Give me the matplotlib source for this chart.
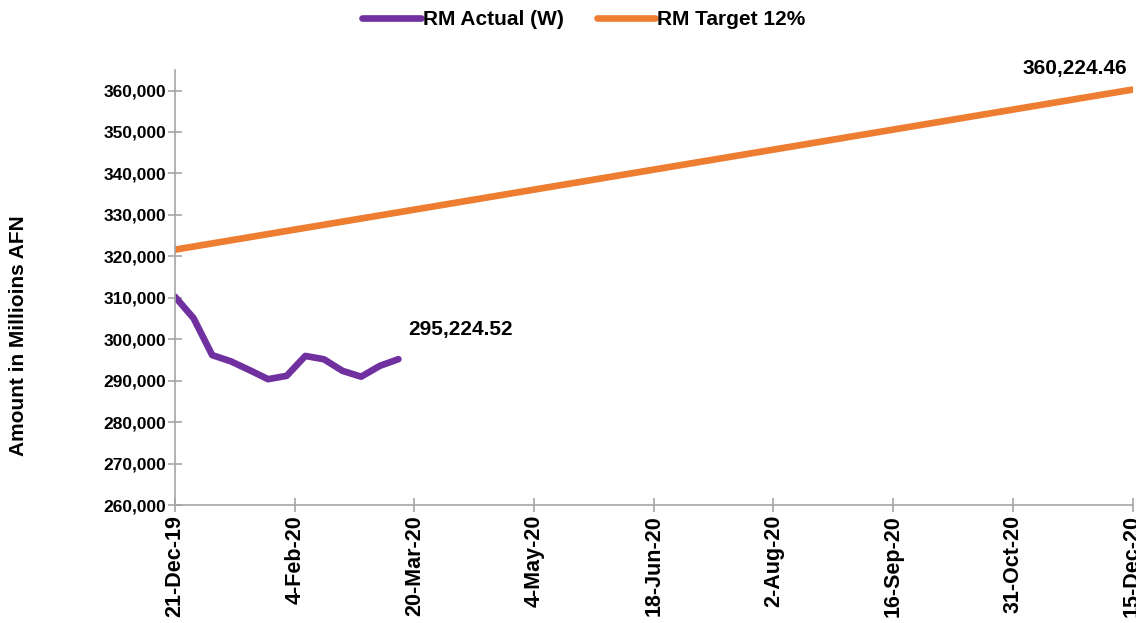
import datetime as dt
import matplotlib
matplotlib.use("Agg")
import matplotlib.pyplot as plt
from matplotlib.ticker import FuncFormatter

plt.rcParams['font.family'] = ['Liberation Sans', 'DejaVu Sans']
plt.rcParams['font.weight'] = 'bold'

# weekly actual RM (W)
actual_dates = [dt.date(2019, 12, 21) + dt.timedelta(days=7 * i) for i in range(13)]
actual_vals = [310300, 305100, 296200, 294700, 292600, 290400, 291200,
               296000, 295200, 292400, 291000, 293600, 295224.52]

# 12% target line
target_dates = [dt.date(2019, 12, 21), dt.date(2020, 12, 15)]
target_vals = [321628.98, 360224.46]

tick_dates = [dt.date(2019, 12, 21) + dt.timedelta(days=45 * i) for i in range(9)]
tick_labels = [f"{d.day}-{d.strftime('%b-%y')}" for d in tick_dates]

purple = '#7030A0'
orange = '#ED7D31'
grey = '#A6A6A6'

fig = plt.figure(figsize=(11.36, 6.23), dpi=100)
ax = fig.add_axes([0.154, 0.189, 0.843, 0.699])

ax.plot(actual_dates, actual_vals, color=purple, lw=4.8, label='RM Actual (W)',
        solid_capstyle='round', solid_joinstyle='round')
ax.plot(target_dates, target_vals, color=orange, lw=4.8, label='RM Target 12%',
        solid_capstyle='round')

ax.set_xlim(tick_dates[0], tick_dates[-1])
ax.set_ylim(260000, 365000)
ax.set_yticks(range(260000, 360001, 10000))
ax.yaxis.set_major_formatter(FuncFormatter(lambda v, p: f"{int(v):,}"))
ax.set_xticks(tick_dates)
ax.set_xticklabels(tick_labels, rotation=90, fontsize=15.5, fontweight='bold')
for lab in ax.get_yticklabels():
    lab.set_fontsize(12.5)
    lab.set_fontweight('bold')

for s in ['top', 'right']:
    ax.spines[s].set_visible(False)
for s in ['left', 'bottom']:
    ax.spines[s].set_color(grey)
    ax.spines[s].set_linewidth(1.2)
ax.tick_params(axis='both', direction='inout', length=10, width=1.2, color=grey)
ax.tick_params(axis='y', pad=1)
ax.tick_params(axis='x', pad=2)

ax.set_ylabel('Amount in Millioins AFN', fontsize=15, fontweight='bold')
ax.yaxis.set_label_coords(-0.153, 0.39)

ax.annotate(f"{actual_vals[-1]:,.2f}", xy=(actual_dates[-1], actual_vals[-1]),
            xytext=(7, 21), textcoords='offset points', fontsize=15,
            fontweight='bold', ha='left', va='center')
ax.annotate(f"{target_vals[-1]:,.2f}", xy=(target_dates[-1], target_vals[-1]),
            xytext=(-4, 15), textcoords='offset points', fontsize=15,
            fontweight='bold', ha='right', va='center', annotation_clip=False)

fig.legend(loc='center', bbox_to_anchor=(0.514, 0.968), ncol=2, frameon=False,
           fontsize=15, handlelength=2.8, columnspacing=1.6, handletextpad=0.1)

fig.savefig('out.png', dpi=100)
